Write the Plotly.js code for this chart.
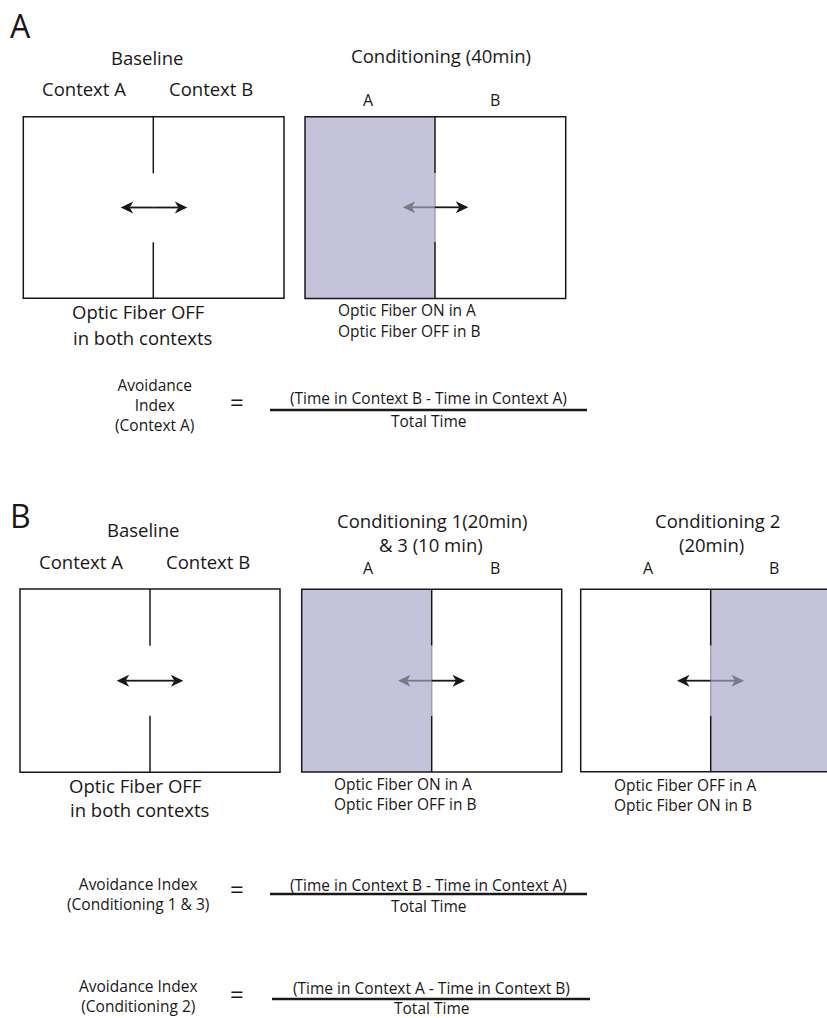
<!DOCTYPE html>
<html>
<head>
<meta charset="utf-8">
<script src="https://cdn.plot.ly/plotly-3.0.1.min.js"></script>
<style>
  html, body { margin: 0; padding: 0; background: #ffffff; }
  #chart { width: 827px; height: 1018px; }
</style>
</head>
<body>
<div id="chart"></div>
<script>
// ---------------- DATA (text content of the diagram) ----------------
const panelLetters = ['A', 'B'];
const sessionTitlesA = [['Baseline'], ['Conditioning (40min)']];
const sessionTitlesB = [['Baseline'], ['Conditioning 1(20min)', '& 3 (10 min)'], ['Conditioning 2', '(20min)']];
const baselineContextLabels = ['Context A', 'Context B'];
const chamberSideLabels = ['A', 'B'];
const fiberNotesA = [['Optic Fiber OFF', 'in both contexts'], ['Optic Fiber ON in A', 'Optic Fiber OFF in B']];
const fiberNotesB = [['Optic Fiber OFF', 'in both contexts'], ['Optic Fiber ON in A', 'Optic Fiber OFF in B'], ['Optic Fiber OFF in A', 'Optic Fiber ON in B']];
const litSideA = [null, 'A'];
const litSideB = [null, 'A', 'B'];
const formulaLabels = [['Avoidance', 'Index', '(Context A)'], ['Avoidance Index', '(Conditioning 1 & 3)'], ['Avoidance Index', '(Conditioning 2)']];
const formulaNumerators = ['(Time in Context B - Time in Context A)', '(Time in Context B - Time in Context A)', '(Time in Context A - Time in Context B)'];
const formulaDenominators = ['Total Time', 'Total Time', 'Total Time'];
const equalsSign = '=';

// ---------------- STYLE ----------------
const FONT = '"Open Sans", "Noto Sans", sans-serif';
const INK = '#1a1718';
const SHADE = '#c4c3d9';
const GREY_ARROW = '#7a7986';
const GREY_DIVIDER = '#a3a2b2';
const HEAD_LEN = 12.5, HEAD_HALF = 6, HEAD_NOTCH = 3.5;

// ---------------- GEOMETRY (layout positions, pixel-like axis units) ----------------
const chambersA = [
  {L: 23.3, R: 284, T: 116.7, B: 298.3, mid: 153.3, gT: 173.3, gB: 242.3, aL: 120.7, aR: 187.3, aY: 207.5},
  {L: 305, R: 565.7, T: 116.7, B: 298.5, mid: 435, gT: 173.3, gB: 241.7, aL: 402.7, aR: 468.3, aY: 207.3}
];
const chambersB = [
  {L: 20, R: 280, T: 589, B: 772.3, mid: 150, gT: 645.7, gB: 715.7, aL: 116.7, aR: 183.3, aY: 680.7},
  {L: 301.7, R: 561.7, T: 589.3, B: 772, mid: 431.7, gT: 645.7, gB: 715.7, aL: 398, aR: 465, aY: 680.7},
  {L: 580.7, R: 870, T: 589.3, B: 771.7, mid: 710.7, gT: 645.7, gB: 715.7, aL: 677, aR: 744, aY: 680.7}
];
const letterPos = [[20, 25], [20, 515]];
const titlePosA = [[[147, 57]], [[441, 55]]];
const titlePosB = [[[143, 529]], [[432, 520], [431, 544]], [[717, 520], [711, 544]]];
const ctxPosA = [[84, 88], [211, 88]];
const ctxPosB = [[81, 561.7], [207.5, 561.7]];
const sidePosA = [[[368, 100], [495, 100]]];
const sidePosB = [[[368, 568], [495, 568]], [[648, 568], [774, 568]]];
const notePosA = [{center: true, pts: [[138, 311.7], [142, 337]]}, {center: false, pts: [[336.7, 310], [336.7, 331]]}];
const notePosB = [{center: true, pts: [[135, 785], [139, 809]]}, {center: false, pts: [[333, 784], [333, 804]]}, {center: false, pts: [[612.7, 785], [612.7, 805]]}];
const formulaGeo = [
  {labelX: 154, labelY: 405, eq: [237, 401], numY: 398, lineY: 410, x0: 270, x1: 587, denY: 421},
  {labelX: 138, labelY: 893.5, eq: [237, 888], numY: 884.5, lineY: 894, x0: 270, x1: 587, denY: 906},
  {labelX: 138, labelY: 996, eq: [237, 993], numY: 987.5, lineY: 999, x0: 272, x1: 590, denY: 1008}
];

const shapes = [];
const annotations = [];

function txt(text, x, y, size, anchor) {
  annotations.push({
    xref: 'x', yref: 'y', x: x, y: y, text: text, showarrow: false,
    xanchor: anchor || 'center', yanchor: 'middle', align: anchor === 'left' ? 'left' : 'center',
    font: {family: FONT, size: size, color: INK}, borderpad: 0
  });
}
function line(x0, y0, x1, y1, color, width) {
  shapes.push({type: 'line', xref: 'x', yref: 'y', x0: x0, y0: y0, x1: x1, y1: y1,
    line: {color: color, width: width}, layer: 'above'});
}
function halfArrow(fromX, toX, y, color) {
  const dir = toX > fromX ? 1 : -1;
  const back = toX - dir * HEAD_LEN;
  const notch = toX - dir * (HEAD_LEN - HEAD_NOTCH);
  line(fromX, y, notch, y, color, 1.8);
  shapes.push({
    type: 'path', xref: 'x', yref: 'y', layer: 'above',
    path: 'M' + toX + ',' + y + ' L' + back + ',' + (y - HEAD_HALF) + ' L' + notch + ',' + y +
          ' L' + back + ',' + (y + HEAD_HALF) + ' Z',
    fillcolor: color, line: {width: 0}
  });
}
function chamber(c, lit) {
  // shaded (light ON) side
  if (lit === 'A') {
    shapes.push({type: 'rect', xref: 'x', yref: 'y', x0: c.L, x1: c.mid, y0: c.T, y1: c.B,
      fillcolor: SHADE, line: {width: 0}, layer: 'below'});
  } else if (lit === 'B') {
    shapes.push({type: 'rect', xref: 'x', yref: 'y', x0: c.mid, x1: c.R, y0: c.T, y1: c.B,
      fillcolor: SHADE, line: {width: 0}, layer: 'below'});
  }
  // outline
  shapes.push({type: 'rect', xref: 'x', yref: 'y', x0: c.L, x1: c.R, y0: c.T, y1: c.B,
    fillcolor: 'rgba(0,0,0,0)', line: {color: INK, width: 1.5}, layer: 'above'});
  // divider with doorway
  line(c.mid, c.T, c.mid, c.gT, INK, 1.5);
  line(c.mid, c.gB, c.mid, c.B, INK, 1.5);
  if (lit) line(c.mid, c.gT, c.mid, c.gB, GREY_DIVIDER, 1.5);
  // double arrow, split at the divider
  halfArrow(c.mid, c.aL, c.aY, lit === 'A' ? GREY_ARROW : INK);
  halfArrow(c.mid, c.aR, c.aY, lit === 'B' ? GREY_ARROW : INK);
}

// Panel letters
panelLetters.forEach((l, i) => txt(l, letterPos[i][0], letterPos[i][1], 32));

// Panel A
sessionTitlesA.forEach((lines, i) => lines.forEach((t, j) => txt(t, titlePosA[i][j][0], titlePosA[i][j][1], 18.5)));
baselineContextLabels.forEach((t, i) => txt(t, ctxPosA[i][0], ctxPosA[i][1], 18.5));
sidePosA.forEach(pair => chamberSideLabels.forEach((t, i) => txt(t, pair[i][0], pair[i][1], 16)));
chambersA.forEach((c, i) => chamber(c, litSideA[i]));
fiberNotesA.forEach((lines, i) => lines.forEach((t, j) => {
  const p = notePosA[i];
  txt(t, p.pts[j][0], p.pts[j][1], p.center ? 18.5 : 15.5, p.center ? 'center' : 'left');
}));

// Panel B
sessionTitlesB.forEach((lines, i) => lines.forEach((t, j) => txt(t, titlePosB[i][j][0], titlePosB[i][j][1], 18.5)));
baselineContextLabels.forEach((t, i) => txt(t, ctxPosB[i][0], ctxPosB[i][1], 18.5));
sidePosB.forEach(pair => chamberSideLabels.forEach((t, i) => txt(t, pair[i][0], pair[i][1], 16)));
chambersB.forEach((c, i) => chamber(c, litSideB[i]));
fiberNotesB.forEach((lines, i) => lines.forEach((t, j) => {
  const p = notePosB[i];
  txt(t, p.pts[j][0], p.pts[j][1], p.center ? 18.5 : 15.5, p.center ? 'center' : 'left');
}));

// Formulas
formulaLabels.forEach((lines, i) => {
  const g = formulaGeo[i];
  txt(lines.join('<br>'), g.labelX, g.labelY, 15.5);
  txt(equalsSign, g.eq[0], g.eq[1], 24);
  const cx = (g.x0 + g.x1) / 2;
  txt(formulaNumerators[i], cx, g.numY, 15.5);
  line(g.x0, g.lineY, g.x1, g.lineY, INK, 2.7);
  txt(formulaDenominators[i], cx, g.denY, 15.5);
});

const layout = {
  width: 827, height: 1018,
  margin: {l: 0, r: 0, t: 0, b: 0, pad: 0},
  paper_bgcolor: '#ffffff', plot_bgcolor: '#ffffff',
  showlegend: false,
  xaxis: {range: [0, 827], visible: false, fixedrange: true, showgrid: false, zeroline: false},
  yaxis: {range: [1018, 0], visible: false, fixedrange: true, showgrid: false, zeroline: false},
  shapes: shapes,
  annotations: annotations
};

Plotly.newPlot('chart', [], layout, {staticPlot: true, displayModeBar: false});
</script>
</body>
</html>
